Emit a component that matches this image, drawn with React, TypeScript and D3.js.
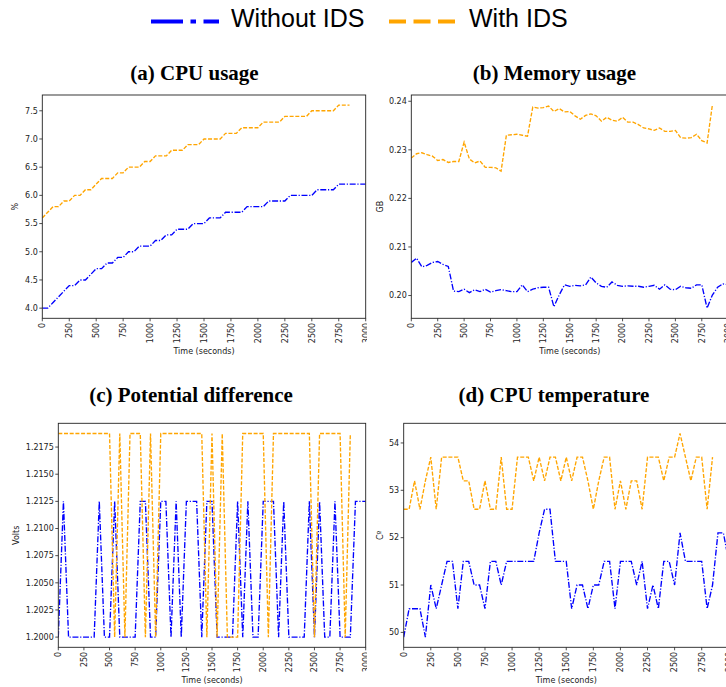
import React from 'react';
import * as d3 from 'd3';

// ---------- data (sampled every 50 s) ----------
const SAMPLE_STEP = 50;

const cpuWithout = [4.0, 4.0, 4.1, 4.2, 4.3, 4.4, 4.4, 4.5, 4.5, 4.6, 4.7, 4.7, 4.8, 4.8, 4.9, 4.9, 5.0, 5.0, 5.1, 5.1, 5.1, 5.2, 5.2, 5.3, 5.3, 5.4, 5.4, 5.4, 5.5, 5.5, 5.5, 5.6, 5.6, 5.6, 5.7, 5.7, 5.7, 5.7, 5.8, 5.8, 5.8, 5.8, 5.9, 5.9, 5.9, 5.9, 6.0, 6.0, 6.0, 6.0, 6.0, 6.1, 6.1, 6.1, 6.1, 6.2, 6.2, 6.2, 6.2, 6.2, 6.2];
const cpuWith = [5.6, 5.7, 5.8, 5.8, 5.9, 5.9, 6.0, 6.0, 6.1, 6.1, 6.2, 6.3, 6.3, 6.3, 6.4, 6.4, 6.5, 6.5, 6.5, 6.6, 6.6, 6.7, 6.7, 6.7, 6.8, 6.8, 6.8, 6.9, 6.9, 6.9, 7.0, 7.0, 7.0, 7.0, 7.1, 7.1, 7.1, 7.2, 7.2, 7.2, 7.2, 7.3, 7.3, 7.3, 7.3, 7.4, 7.4, 7.4, 7.4, 7.4, 7.5, 7.5, 7.5, 7.5, 7.5, 7.6, 7.6, 7.6];

const memWithout = [0.2068, 0.2077, 0.2059, 0.2062, 0.2068, 0.2070, 0.2064, 0.2060, 0.2009, 0.2008,
  0.2013, 0.2006, 0.2012, 0.2008, 0.2013, 0.2007, 0.2010, 0.2012, 0.2010, 0.2008,
  0.2008, 0.2022, 0.2008, 0.2013, 0.2016, 0.2017, 0.2017, 0.1977, 0.2001, 0.2022,
  0.2019, 0.2021, 0.2020, 0.2022, 0.2038, 0.2026, 0.2019, 0.2017, 0.2028, 0.2021,
  0.2019, 0.2020, 0.2019, 0.2019, 0.2017, 0.2019, 0.2021, 0.2013, 0.2022, 0.2013,
  0.2012, 0.2019, 0.2016, 0.2015, 0.2022, 0.2022, 0.1974, 0.2001, 0.2017, 0.2024,
  0.2022];
const memWith = [0.2283, 0.2292, 0.2294, 0.2290, 0.2287, 0.2278, 0.2280, 0.2274, 0.2276, 0.2276,
  0.2316, 0.2281, 0.2273, 0.2277, 0.2264, 0.2264, 0.2263, 0.2256, 0.2330, 0.2331,
  0.2332, 0.2330, 0.2328, 0.2388, 0.2386, 0.2387, 0.2390, 0.2379, 0.2385, 0.2378,
  0.2379, 0.2370, 0.2363, 0.2371, 0.2374, 0.2370, 0.2359, 0.2367, 0.2361, 0.2359,
  0.2367, 0.2357, 0.2357, 0.2352, 0.2345, 0.2343, 0.2340, 0.2345, 0.2338, 0.2338,
  0.2340, 0.2325, 0.2324, 0.2325, 0.2332, 0.2319, 0.2314, 0.2392];

const voltWithout = [1.2, 1.2125, 1.2, 1.2, 1.2, 1.2, 1.2, 1.2, 1.2125, 1.2,
  1.2, 1.2125, 1.2, 1.2, 1.2, 1.2, 1.2125, 1.2125, 1.2, 1.2,
  1.2125, 1.2125, 1.2, 1.2125, 1.2, 1.2125, 1.2125, 1.2125, 1.2, 1.2125,
  1.2125, 1.2, 1.2, 1.2, 1.2, 1.2125, 1.2, 1.2125, 1.2, 1.2,
  1.2125, 1.2125, 1.2125, 1.2, 1.2125, 1.2, 1.2, 1.2, 1.2, 1.2125,
  1.2, 1.2125, 1.2, 1.2, 1.2125, 1.2, 1.2, 1.2, 1.2125, 1.2125,
  1.2125];
const voltWith = [1.21875, 1.21875, 1.21875, 1.21875, 1.21875, 1.21875, 1.21875, 1.21875, 1.21875, 1.21875,
  1.21875, 1.2, 1.21875, 1.2, 1.21875, 1.21875, 1.21875, 1.2, 1.21875, 1.2,
  1.21875, 1.21875, 1.21875, 1.21875, 1.21875, 1.21875, 1.21875, 1.21875, 1.21875, 1.2,
  1.21875, 1.2, 1.21875, 1.2, 1.2, 1.2, 1.21875, 1.21875, 1.21875, 1.21875,
  1.21875, 1.2, 1.21875, 1.21875, 1.21875, 1.21875, 1.21875, 1.21875, 1.21875, 1.21875,
  1.2, 1.21875, 1.21875, 1.21875, 1.21875, 1.21875, 1.2, 1.21875];

const tempWithout = [49.9, 50.5, 50.5, 50.5, 49.9, 51.0, 50.5, 51.0, 51.5, 51.5,
  50.5, 51.5, 51.5, 51.0, 51.0, 50.5, 51.5, 51.5, 51.0, 51.5,
  51.5, 51.5, 51.5, 51.5, 51.5, 52.1, 52.6, 52.6, 51.5, 51.5,
  51.5, 50.5, 51.0, 51.0, 50.5, 51.0, 51.0, 51.5, 51.5, 50.5,
  51.5, 51.5, 51.5, 51.0, 51.5, 50.5, 51.0, 50.5, 51.5, 51.5,
  51.0, 52.1, 51.5, 51.5, 51.5, 51.5, 50.5, 51.0, 52.1, 52.1,
  51.5];
const tempWith = [52.6, 52.6, 53.2, 52.6, 53.2, 53.7, 52.6, 53.7, 53.7, 53.7,
  53.7, 53.2, 53.2, 52.6, 52.6, 53.2, 52.6, 52.6, 53.7, 52.6,
  52.6, 53.7, 53.7, 53.7, 53.2, 53.7, 53.2, 53.7, 53.7, 53.2,
  53.7, 53.2, 53.7, 53.7, 53.2, 52.6, 53.2, 53.7, 53.7, 52.6,
  53.2, 52.6, 53.2, 53.2, 52.6, 53.7, 53.7, 53.7, 53.2, 53.7,
  53.7, 54.2, 53.7, 53.2, 53.7, 53.7, 52.6, 53.7];

const xTicks = [0, 250, 500, 750, 1000, 1250, 1500, 1750, 2000, 2250, 2500, 2750, 3000];
const cpuTicks = [4.0, 4.5, 5.0, 5.5, 6.0, 6.5, 7.0, 7.5];
const memTicks = [0.20, 0.21, 0.22, 0.23, 0.24];
const voltTicks = [1.2, 1.2025, 1.205, 1.2075, 1.21, 1.2125, 1.215, 1.2175];
const tempTicks = [50, 51, 52, 53, 54];

const seriesNames = ['Without IDS', 'With IDS'];

// ---------- styles ----------
const BLUE = '#0000ff';
const ORANGE = '#ffa500';
const BLUE_DASH = '6,1.7,1.2,1.7';
const ORANGE_DASH = '4,1.7';
const LINE_W = 1.35;
const TICK_FONT = 'DejaVu Sans, sans-serif';
const TITLE_FONT = 'Liberation Serif, Times New Roman, serif';
const LEGEND_FONT = 'Liberation Sans, Arial, sans-serif';

type PanelProps = {
  id: string;
  left: number; right: number; top: number; bottom: number;
  without: number[]; withIds: number[];
  yTicks: number[]; yFmt: (v: number) => string;
  ylabel: string; ylabelX: number;
  title: string; titleX: number; titleY: number;
  xlabelY: number;
  clipRight?: number;
};

function paddedDomain(arrs: number[][]): [number, number] {
  const all = arrs.flat();
  const mn = d3.min(all) as number;
  const mx = d3.max(all) as number;
  const pad = (mx - mn) * 0.05;
  return [mn - pad, mx + pad];
}

function Panel(p: PanelProps) {
  const x = d3.scaleLinear().domain([0, 3000]).range([p.left, p.right]);
  const y = d3.scaleLinear().domain(paddedDomain([p.without, p.withIds])).range([p.bottom, p.top]);
  const line = d3.line<number>().x((_, i) => x(i * SAMPLE_STEP)).y((d) => y(d));
  const clipId = `clip-${p.id}`;
  const outerClip = `oclip-${p.id}`;
  const cx = (p.left + p.right) / 2;
  const cy = (p.top + p.bottom) / 2;
  return (
    <g clipPath={p.clipRight ? `url(#${outerClip})` : undefined}>
      <defs>
        <clipPath id={clipId}>
          <rect x={p.left} y={p.top} width={p.right - p.left} height={p.bottom - p.top} />
        </clipPath>
        {p.clipRight ? (
          <clipPath id={outerClip}>
            <rect x={0} y={0} width={p.clipRight} height={687} />
          </clipPath>
        ) : null}
      </defs>
      <g clipPath={`url(#${clipId})`}>
        <path d={line(p.without) || ''} fill="none" stroke={BLUE} strokeWidth={LINE_W} strokeDasharray={BLUE_DASH} />
        <path d={line(p.withIds) || ''} fill="none" stroke={ORANGE} strokeWidth={LINE_W} strokeDasharray={ORANGE_DASH} />
      </g>
      <rect x={p.left} y={p.top} width={p.right - p.left} height={p.bottom - p.top} fill="none" stroke="#222" strokeWidth={0.9} />
      {/* y ticks */}
      {p.yTicks.map((t) => (
        <g key={`y${t}`}>
          <line x1={p.left - 3} x2={p.left} y1={y(t)} y2={y(t)} stroke="#222" strokeWidth={0.8} />
          <text x={p.left - 4.5} y={y(t)} dy="0.35em" textAnchor="end" fontFamily={TICK_FONT} fontSize={8} fill="#222">
            {p.yFmt(t)}
          </text>
        </g>
      ))}
      {/* x ticks */}
      {xTicks.map((t) => (
        <g key={`x${t}`}>
          <line x1={x(t)} x2={x(t)} y1={p.bottom} y2={p.bottom + 3} stroke="#222" strokeWidth={0.8} />
          <text
            transform={`translate(${x(t)},${p.bottom + 4.5}) rotate(-90)`}
            dy="0.35em"
            textAnchor="end"
            fontFamily={TICK_FONT}
            fontSize={8}
            fill="#222"
          >
            {String(t)}
          </text>
        </g>
      ))}
      <text x={cx} y={p.xlabelY} textAnchor="middle" fontFamily={TICK_FONT} fontSize={8} fill="#222">
        Time (seconds)
      </text>
      <text
        transform={`translate(${p.ylabelX},${cy}) rotate(-90)`}
        dy="0.35em"
        textAnchor="middle"
        fontFamily={TICK_FONT}
        fontSize={8}
        fill="#222"
      >
        {p.ylabel}
      </text>
      <text x={p.titleX} y={p.titleY} textAnchor="middle" fontFamily={TITLE_FONT} fontWeight="bold" fontSize={21} fill="#000">
        {p.title}
      </text>
    </g>
  );
}

export default function App() {
  return (
    <svg
      width={726}
      height={687}
      viewBox="0 0 726 687"
      style={{ position: 'absolute', left: 0, top: 0, background: '#fff' }}
    >
      <rect x={0} y={0} width={726} height={687} fill="#fff" />
      {/* legend */}
      <line x1={151} x2={219} y1={21.5} y2={21.5} stroke={BLUE} strokeWidth={4} strokeDasharray="32,7.5,5.5,7.5" />
      <text x={231} y={27} fontFamily={LEGEND_FONT} fontSize={25} fill="#000">{seriesNames[0]}</text>
      <line x1={389} x2={458} y1={21.5} y2={21.5} stroke={ORANGE} strokeWidth={4} strokeDasharray="17,7.5" />
      <text x={469} y={27} fontFamily={LEGEND_FONT} fontSize={25} fill="#000">{seriesNames[1]}</text>

      <Panel
        id="a" left={42.3} right={365.7} top={95} bottom={318.3}
        without={cpuWithout} withIds={cpuWith}
        yTicks={cpuTicks} yFmt={d3.format('.1f')}
        ylabel="%" ylabelX={15}
        title="(a) CPU usage" titleX={194.5} titleY={79.5}
        xlabelY={354.3} clipRight={367}
      />
      <Panel
        id="b" left={411.3} right={728.2} top={95} bottom={318.3}
        without={memWithout} withIds={memWith}
        yTicks={memTicks} yFmt={d3.format('.2f')}
        ylabel="GB" ylabelX={380}
        title="(b) Memory usage" titleX={554.5} titleY={79.5}
        xlabelY={354.3}
      />
      <Panel
        id="c" left={58.3} right={365.7} top={423.3} bottom={647.3}
        without={voltWithout} withIds={voltWith}
        yTicks={voltTicks} yFmt={d3.format('.4f')}
        ylabel="Volts" ylabelX={16}
        title="(c) Potential difference" titleX={191} titleY={402.3}
        xlabelY={683} clipRight={367}
      />
      <Panel
        id="d" left={403.7} right={728.8} top={423.3} bottom={647.3}
        without={tempWithout} withIds={tempWith}
        yTicks={tempTicks} yFmt={d3.format('d')}
        ylabel="Cº" ylabelX={380}
        title="(d) CPU temperature" titleX={554} titleY={402.3}
        xlabelY={683}
      />
    </svg>
  );
}
